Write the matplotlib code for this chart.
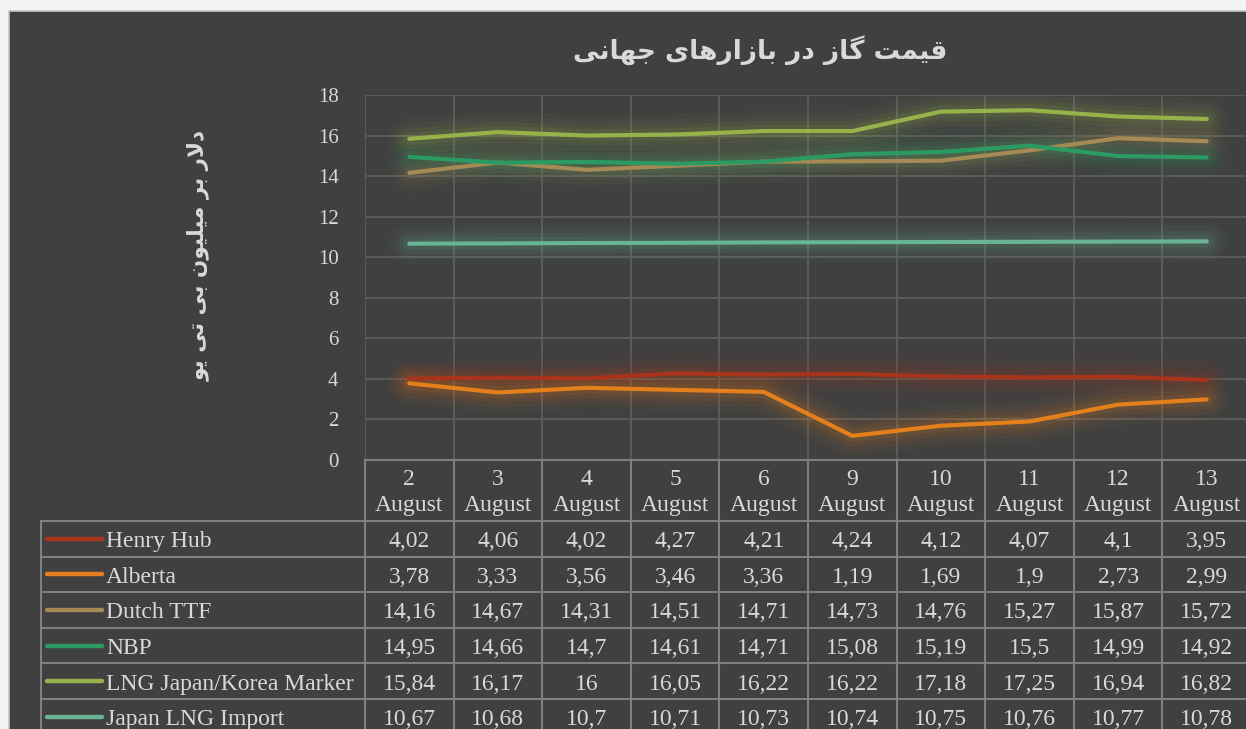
import numpy as np
import matplotlib.pyplot as plt
from matplotlib.lines import Line2D
from matplotlib.patches import Rectangle
from matplotlib.transforms import blended_transform_factory

# data ---------------------------------------------------------------------------
days = [2, 3, 4, 5, 6, 9, 10, 11, 12, 13]
series_names = ['Henry Hub', 'Alberta', 'Dutch TTF', 'NBP', 'LNG Japan/Korea Marker', 'Japan LNG Import']
henry_hub = [4.02, 4.06, 4.02, 4.27, 4.21, 4.24, 4.12, 4.07, 4.1, 3.95]
alberta = [3.78, 3.33, 3.56, 3.46, 3.36, 1.19, 1.69, 1.9, 2.73, 2.99]
dutch_ttf = [14.16, 14.67, 14.31, 14.51, 14.71, 14.73, 14.76, 15.27, 15.87, 15.72]
nbp = [14.95, 14.66, 14.7, 14.61, 14.71, 15.08, 15.19, 15.5, 14.99, 14.92]
lng_jkm = [15.84, 16.17, 16, 16.05, 16.22, 16.22, 17.18, 17.25, 16.94, 16.82]
japan_import = [10.67, 10.68, 10.7, 10.71, 10.73, 10.74, 10.75, 10.76, 10.77, 10.78]
series_values = [henry_hub, alberta, dutch_ttf, nbp, lng_jkm, japan_import]
colors = ['#a8341b', '#e3801c', '#a68a56', '#2b9b63', '#98b24b', '#69b494']

title = 'قیمت گاز در بازارهای جهانی'
ylabel = 'دلار بر میلیون بی تی یو'


# matplotlib has no arabic shaping, so pick presentation forms by hand
# (isolated, final, initial, medial)
FORMS = {
    'ا': ('\uFE8D', '\uFE8E', None, None),
    'ز': ('\uFEAF', '\uFEB0', None, None),
    'د': ('\uFEA9', '\uFEAA', None, None),
    'ر': ('\uFEAD', '\uFEAE', None, None),
    'و': ('\uFEED', '\uFEEE', None, None),
    'ق': ('\uFED5', '\uFED6', '\uFED7', '\uFED8'),
    'ی': ('\uFBFC', '\uFBFD', '\uFBFE', '\uFBFF'),
    'م': ('\uFEE1', '\uFEE2', '\uFEE3', '\uFEE4'),
    'ت': ('\uFE95', '\uFE96', '\uFE97', '\uFE98'),
    'گ': ('\uFB92', '\uFB93', '\uFB94', '\uFB95'),
    'ب': ('\uFE8F', '\uFE90', '\uFE91', '\uFE92'),
    'ه': ('\uFEE9', '\uFEEA', '\uFEEB', '\uFEEC'),
    'ج': ('\uFE9D', '\uFE9E', '\uFE9F', '\uFEA0'),
    'ن': ('\uFEE5', '\uFEE6', '\uFEE7', '\uFEE8'),
    'ل': ('\uFEDD', '\uFEDE', '\uFEDF', '\uFEE0'),
}


def joins_left(c):
    return c in FORMS and FORMS[c][2] is not None


def shape(text):
    out = []
    i = 0
    n = len(text)
    while i < n:
        c = text[i]
        if c not in FORMS:
            out.append(c)
            i += 1
            continue
        prev_join = i > 0 and joins_left(text[i - 1])
        if c == 'ل' and i + 1 < n and text[i + 1] == 'ا':
            out.append('\uFEFC' if prev_join else '\uFEFB')
            i += 2
            continue
        next_join = joins_left(c) and i + 1 < n and text[i + 1] in FORMS
        iso, fin, ini, med = FORMS[c]
        if prev_join and next_join:
            out.append(med)
        elif prev_join:
            out.append(fin)
        elif next_join:
            out.append(ini)
        else:
            out.append(iso)
        i += 1
    return ''.join(reversed(out))


# layout in pixels -------------------------------------------------------------
W, H = 1246, 729
def fx(p): return p / W
def fy(p): return 1 - p / H

txt_col = '#d9d9d9'
grid_col = '#5c5c5c'
table_col = '#7f7f7f'
serif = 'Liberation Serif'

fig = plt.figure(figsize=(W / 100, H / 100), dpi=100, facecolor='#f4f4f4')
fig.add_artist(Rectangle((fx(9), -0.1), 1.2, fy(11) + 0.1, transform=fig.transFigure,
                         facecolor='#404040', edgecolor='#c4c4c4', lw=1.2, zorder=-5))

ax = fig.add_axes([fx(365), fy(460), fx(1251) - fx(365), (460 - 95) / H])
ax.set_facecolor('none')
ax.set_xlim(-0.5, 9.5)
ax.set_ylim(0, 18)
for s in ax.spines.values():
    s.set_visible(False)
ax.set_yticks(range(0, 19, 2))
ax.set_xticks([])
ax.set_xticks(np.arange(-0.5, 10, 1), minor=True)
ax.tick_params(axis='y', length=0, pad=19, labelcolor=txt_col, labelsize=15)
ax.tick_params(axis='x', which='both', length=0, labelbottom=False)
for lab in ax.get_yticklabels():
    lab.set_family(serif)
ax.yaxis.grid(True, color=grid_col, lw=1.3)
ax.xaxis.grid(True, which='minor', color=grid_col, lw=1.3)
ax.set_axisbelow(True)

x = np.arange(len(days))
for vals, c in zip(series_values, colors):
    # soft glow round each line
    for lw, a in [(30, 0.04), (22, 0.06), (15, 0.08), (9, 0.10)]:
        ax.plot(x, vals, color=c, lw=lw, alpha=a, solid_capstyle='round', solid_joinstyle='round')
for vals, c in zip(series_values, colors):
    ax.plot(x, vals, color=c, lw=3, solid_capstyle='round', solid_joinstyle='round')

fig.text(fx(760), fy(50), shape(title), ha='center', va='center', fontsize=19,
         fontweight='bold', color=txt_col, family='DejaVu Sans')
fig.text(fx(198), fy(255), shape(ylabel), ha='center', va='center', fontsize=15.5,
         fontweight='bold', color=txt_col, family='DejaVu Sans', rotation=90)

# data table -------------------------------------------------------------------
tr = blended_transform_factory(ax.transData, fig.transFigure)
head_top, head_bot, row_h = 460, 521, 35.6
n_rows = len(series_names)
bottom = head_bot + row_h * (n_rows + 1)

fig.add_artist(Line2D([fx(365), 1.1], [fy(head_top)] * 2, color=table_col, lw=1.5))
for r in range(n_rows + 1):
    yy = fy(head_bot + r * row_h)
    fig.add_artist(Line2D([fx(41), 1.1], [yy, yy], color=table_col, lw=1.5))
fig.add_artist(Line2D([fx(41), fx(41)], [fy(head_bot), fy(bottom)], color=table_col, lw=1.5))
for b in np.arange(-0.5, 10, 1):
    fig.add_artist(Line2D([b, b], [fy(head_top), fy(bottom)], color=table_col, lw=1.5, transform=tr))

for i, d in enumerate(days):
    fig.text(i, fy((head_top + head_bot) / 2 + 2), f'{d}\nAugust', transform=tr, ha='center', va='center',
             fontsize=17, family=serif, color=txt_col, linespacing=1.3)

for r, (name, vals, c) in enumerate(zip(series_names, series_values, colors)):
    yc = fy(head_bot + (r + 0.5) * row_h)
    yt = fy(head_bot + (r + 0.5) * row_h + 3)
    fig.add_artist(Line2D([fx(47), fx(102)], [yc, yc], color=c, lw=3.2, solid_capstyle='round'))
    fig.text(fx(106), yt, name, ha='left', va='center', fontsize=17, family=serif, color=txt_col)
    for i, v in enumerate(vals):
        fig.text(i, yt, f'{v:g}'.replace('.', ','), transform=tr, ha='center', va='center',
                 fontsize=17, family=serif, color=txt_col)

fig.savefig('out.png', dpi=100, facecolor=fig.get_facecolor())
